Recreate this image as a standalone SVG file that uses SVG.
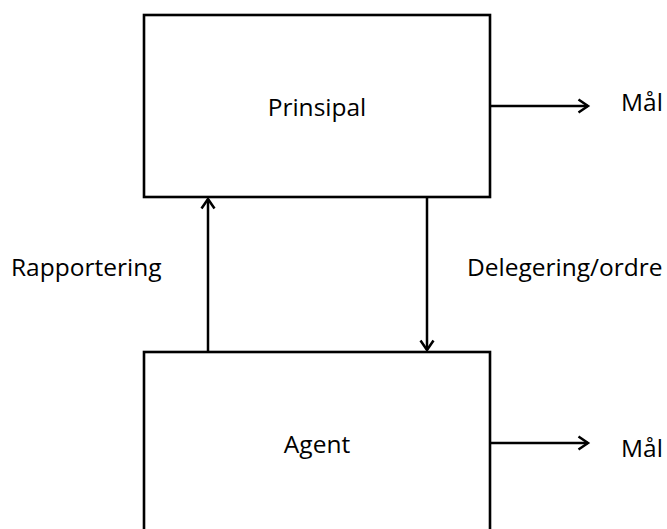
<svg xmlns="http://www.w3.org/2000/svg" width="667" height="529" viewBox="0 0 667 529">
<style>
.box{fill:#fff;stroke:#000;stroke-width:2.6}
.lbl{font-family:"Open Sans","Noto Sans","Liberation Sans",sans-serif;font-size:24.5px;fill:#000}
.conn{stroke:#000;stroke-width:2.5;fill:none}
</style>
<defs>
<marker id="ah" markerUnits="userSpaceOnUse" markerWidth="20" markerHeight="20" viewBox="-14 -10 20 20" refX="0" refY="0" orient="auto">
<path d="M-9.5,-6.5 L0,0 L-9.5,6.5" fill="none" stroke="#000" stroke-width="2.5"/>
</marker>
</defs>
<rect width="667" height="529" fill="#fff"/>
<g id="prinsipal">
<rect class="box" x="144" y="15" width="346" height="182"/>
<text class="lbl" x="317" y="116" text-anchor="middle">Prinsipal</text>
</g>
<g id="agent">
<rect class="box" x="144" y="352" width="346" height="200"/>
<text class="lbl" x="317" y="453" text-anchor="middle">Agent</text>
</g>
<g id="maal1">
<text class="lbl" x="621" y="111">Mål</text>
</g>
<g id="maal2">
<text class="lbl" x="621" y="457">Mål</text>
</g>
<g id="connectors">
<line class="conn" x1="208" y1="351" x2="208" y2="199" marker-end="url(#ah)"/>
<line class="conn" x1="427" y1="198" x2="427" y2="350" marker-end="url(#ah)"/>
<line class="conn" x1="491" y1="106" x2="588" y2="106" marker-end="url(#ah)"/>
<line class="conn" x1="491" y1="443" x2="588" y2="443" marker-end="url(#ah)"/>
<text class="lbl" x="11" y="276">Rapportering</text>
<text class="lbl" x="467" y="276">Delegering/ordre</text>
</g>
</svg>
